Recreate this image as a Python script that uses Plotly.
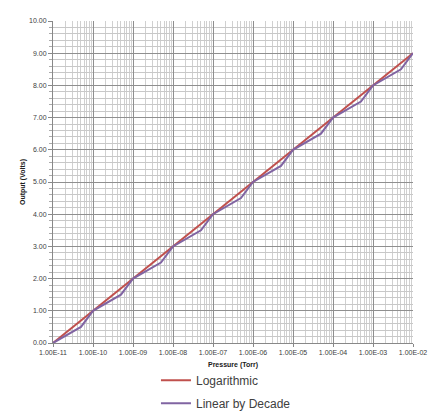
import plotly.graph_objects as go

# ---- data ----
log_pressure = [1e-11, 1e-2]
log_output = [0.0, 9.0]

decade_pressure = [1e-11, 5e-11, 1e-10, 5e-10, 1e-9, 5e-9, 1e-8, 5e-8, 1e-7, 5e-7,
                   1e-6, 5e-6, 1e-5, 5e-5, 1e-4, 5e-4, 1e-3, 5e-3, 1e-2]
decade_output = [0.0, 0.5, 1.0, 1.5, 2.0, 2.5, 3.0, 3.5, 4.0, 4.5,
                 5.0, 5.5, 6.0, 6.5, 7.0, 7.5, 8.0, 8.5, 9.0]

x_tick_vals = [1e-11, 1e-10, 1e-9, 1e-8, 1e-7, 1e-6, 1e-5, 1e-4, 1e-3, 1e-2]
x_tick_labels = ["1.00E-11", "1.00E-10", "1.00E-09", "1.00E-08", "1.00E-07",
                 "1.00E-06", "1.00E-05", "1.00E-04", "1.00E-03", "1.00E-02"]

fig = go.Figure()
fig.add_trace(go.Scatter(x=log_pressure, y=log_output, mode="lines",
                         name="Logarithmic", line=dict(color="#C0504D", width=2),
                         legend="legend"))
fig.add_trace(go.Scatter(x=decade_pressure, y=decade_output, mode="lines",
                         name="Linear by Decade", line=dict(color="#8064A2", width=2),
                         legend="legend2"))

tickfont = dict(family="Liberation Sans, Arial, sans-serif", size=7, color="#404040")
titlefont = dict(family="Liberation Sans, Arial, sans-serif", size=7, color="#202020")
legfont = dict(family="Liberation Sans, Arial, sans-serif", size=12, color="#404040")

# page body has an 8px margin, so the figure is sized/offset to compensate
fig.update_layout(
    width=432, height=412,
    margin=dict(l=45, r=27, t=13, b=77, autoexpand=False),
    paper_bgcolor="white", plot_bgcolor="white",
    showlegend=True,
    legend=dict(x=0.286, y=-0.071, xanchor="left", yanchor="top", font=legfont,
                bgcolor="rgba(0,0,0,0)", itemwidth=30),
    legend2=dict(x=0.286, y=-0.142, xanchor="left", yanchor="top", font=legfont,
                 bgcolor="rgba(0,0,0,0)", itemwidth=30),
    xaxis=dict(
        type="log", range=[-11, -2], automargin=False,
        tickmode="array", tickvals=x_tick_vals, ticktext=x_tick_labels,
        tickfont=tickfont, ticks="outside", ticklen=3, tickcolor="#888888",
        showgrid=True, gridcolor="#8f8f8f", gridwidth=1,
        minor=dict(dtick="D1", showgrid=True, gridcolor="#d0d0d0", gridwidth=1),
        showline=True, linecolor="#888888", linewidth=1,
        zeroline=False,
        title=dict(text="<b>Pressure (Torr)</b>", font=titlefont, standoff=6),
    ),
    yaxis=dict(
        range=[0, 10], dtick=1, tick0=0, tickformat=".2f", automargin=False,
        tickfont=tickfont, ticks="outside", ticklen=4, tickcolor="#888888",
        showgrid=True, gridcolor="#8f8f8f", gridwidth=1,
        minor=dict(dtick=0.2, showgrid=True, gridcolor="#c8c8c8", ticks="outside",
                   ticklen=3, tickcolor="#aaaaaa"),
        showline=True, linecolor="#888888", linewidth=1,
        zeroline=False,
        title=dict(text="<b>Output (Volts)</b>", font=titlefont, standoff=2),
    ),
)

fig.write_html("out.html")
